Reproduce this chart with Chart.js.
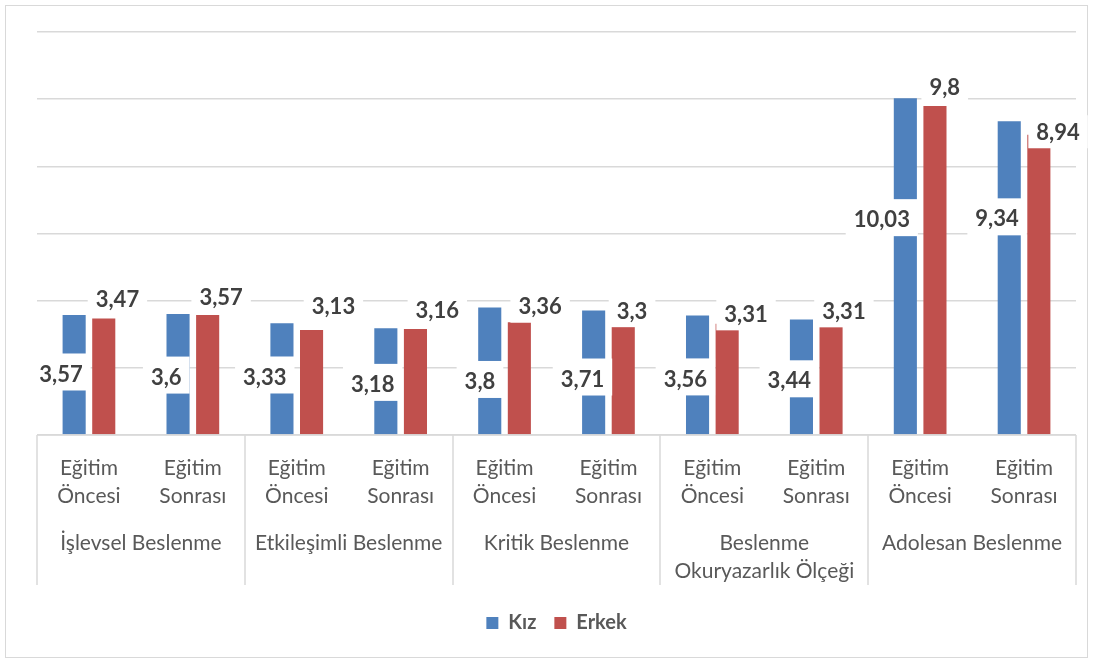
<!DOCTYPE html>
<html lang="tr">
<head>
<meta charset="utf-8">
<title>Beslenme okuryazarlığı - Kız / Erkek</title>
<script src="https://cdn.jsdelivr.net/npm/chart.js@4.4.1/dist/chart.umd.min.js"></script>
<style>
  html, body { margin: 0; padding: 0; background: #fff; }
  #wrap { position: relative; width: 1093px; height: 663px; }
</style>
</head>
<body>
<div id="wrap"><canvas id="chart"></canvas></div>
<script>
// data
const groups = [
  ['İşlevsel Beslenme'],
  ['Etkileşimli Beslenme'],
  ['Kritik Beslenme'],
  ['Beslenme', 'Okuryazarlık Ölçeği'],
  ['Adolesan Beslenme'],
];
const phases = [['Eğitim', 'Öncesi'], ['Eğitim', 'Sonrası']];
const kiz = [3.57, 3.6, 3.33, 3.18, 3.8, 3.71, 3.56, 3.44, 10.03, 9.34];
const erkek = [3.47, 3.57, 3.13, 3.16, 3.36, 3.3, 3.31, 3.31, 9.8, 8.94];
const yTicks = [0, 2, 4, 6, 8, 10, 12];

const categories = [];
groups.forEach(() => phases.forEach((p) => categories.push(p)));

const fmt = (v) => String(v).replace('.', ',');

const framePlugin = {
  id: 'frame',
  beforeDraw(chart) {
    const { ctx, width, height } = chart;
    ctx.save();
    ctx.fillStyle = '#fff';
    ctx.fillRect(0, 0, width, height);
    ctx.strokeStyle = '#d9d9d9';
    ctx.lineWidth = 1;
    ctx.strokeRect(5.5, 5.5, width - 11, height - 11);
    ctx.restore();
  },
};

// value labels with a white box, like the office chart
const labelPlugin = {
  id: 'barLabels',
  afterDatasetsDraw(chart, args, opts) {
    const ctx = chart.ctx;
    ctx.save();
    ctx.font = opts.font;
    ctx.textBaseline = 'middle';
    ctx.textAlign = 'left';
    chart.data.datasets.forEach((ds, di) => {
      const meta = chart.getDatasetMeta(di);
      meta.data.forEach((bar, i) => {
        const text = fmt(ds.data[i]);
        const w = ctx.measureText(text).width;
        const half = bar.width / 2;
        let left, cy, boxH, boxY;
        if (di === 0) {
          left = bar.x + half + opts.kizDx[i] - w;
          cy = bar.base - (bar.base - bar.y) * opts.kizAt[i];
          boxH = opts.kizBoxH;
          boxY = cy - 1.5 - boxH / 2;
        } else {
          left = bar.x - half + opts.erkekDx[i];
          cy = bar.y - opts.erkekLift[i];
          boxH = opts.erkekBoxH;
          boxY = cy - boxH / 2;
        }
        ctx.fillStyle = '#fff';
        ctx.fillRect(left - opts.padX, boxY, w + opts.padX * 2, boxH);
        ctx.fillStyle = opts.color;
        ctx.fillText(text, left, cy + 1);
      });
    });
    ctx.restore();
  },
};

// second level of the category axis: group names and dividers
const groupPlugin = {
  id: 'groupAxis',
  afterDraw(chart, args, opts) {
    const { ctx, chartArea } = chart;
    const x = chart.scales.x;
    const edges = [chartArea.left];
    for (let g = 1; g < groups.length; g++) {
      edges.push((x.getPixelForValue(2 * g - 1) + x.getPixelForValue(2 * g)) / 2);
    }
    edges.push(chartArea.right);

    ctx.save();
    ctx.strokeStyle = opts.lineColor;
    ctx.lineWidth = opts.lineWidth;
    ctx.beginPath();
    ctx.moveTo(chartArea.left, chartArea.bottom);
    ctx.lineTo(chartArea.right, chartArea.bottom);
    edges.forEach((e) => {
      ctx.moveTo(Math.round(e), chartArea.bottom);
      ctx.lineTo(Math.round(e), opts.bottom);
    });
    ctx.stroke();

    ctx.font = opts.font;
    ctx.fillStyle = opts.color;
    ctx.textAlign = 'center';
    ctx.textBaseline = 'middle';
    groups.forEach((lines, g) => {
      const cx = (edges[g] + edges[g + 1]) / 2;
      lines.forEach((t, k) => ctx.fillText(t, cx, opts.top + k * opts.lineHeight));
    });
    ctx.restore();
  },
};

const draw = () => {
  new Chart(document.getElementById('chart'), {
    type: 'bar',
    data: {
      labels: categories,
      datasets: [
        {
          label: 'Kız',
          data: kiz,
          backgroundColor: '#4F81BD',
          categoryPercentage: 0.57,
          barPercentage: 0.78,
        },
        {
          label: 'Erkek',
          data: erkek,
          backgroundColor: '#C0504D',
          categoryPercentage: 0.57,
          barPercentage: 0.78,
        },
      ],
    },
    options: {
      responsive: true,
      maintainAspectRatio: false,
      animation: false,
      devicePixelRatio: 1,
      layout: { padding: { left: 37, right: 17, top: 32, bottom: 20 } },
      plugins: {
        legend: {
          position: 'bottom',
          labels: {
            boxWidth: 12,
            boxHeight: 12,
            padding: 18,
            color: '#595959',
            font: { family: 'Lato', size: 20, weight: 'bold' },
          },
        },
        tooltip: { enabled: false },
        barLabels: {
          font: 'bold 22px Lato',
          color: '#404040',
          padX: 8,
          kizBoxH: 37,
          erkekBoxH: 33,
          kizAt: [0.51, 0.48, 0.52, 0.475, 0.42, 0.45, 0.47, 0.47, 0.64, 0.69],
          kizDx: [-3, -8, -7, -3, -6, -1, -2, -2, -7, -2],
          erkekLift: [20, 18, 23.5, 19, 16, 13.5, 10, 13, 19, 3],
          erkekDx: [3.5, 3.3, 11.7, 11.7, 10.6, 5, 8.7, 2.7, 6, 9],
        },
        groupAxis: {
          font: '21px Lato',
          color: '#595959',
          lineColor: '#d9d9d9',
          lineWidth: 1.5,
          top: 543,
          lineHeight: 28,
          bottom: 585,
        },
      },
      scales: {
        x: {
          grid: { display: false, drawTicks: false },
          border: { display: false },
          ticks: {
            color: '#595959',
            font: { family: 'Lato', size: 21, lineHeight: 1.333 },
            padding: 19,
            maxRotation: 0,
            minRotation: 0,
            autoSkip: false,
          },
          afterFit: (s) => { s.height = 160; },
        },
        y: {
          min: 0,
          max: 12,
          afterBuildTicks: (s) => { s.ticks = yTicks.map((v) => ({ value: v })); },
          ticks: { display: false },
          grid: { color: '#d9d9d9', lineWidth: 1.5, drawTicks: false },
          border: { display: false },
          afterFit: (s) => { s.width = 0; },
        },
      },
    },
    plugins: [framePlugin, labelPlugin, groupPlugin],
  });
};

Promise.all([
  document.fonts.load('21px Lato'),
  document.fonts.load('bold 21px Lato'),
]).then(draw, draw);
</script>
</body>
</html>
